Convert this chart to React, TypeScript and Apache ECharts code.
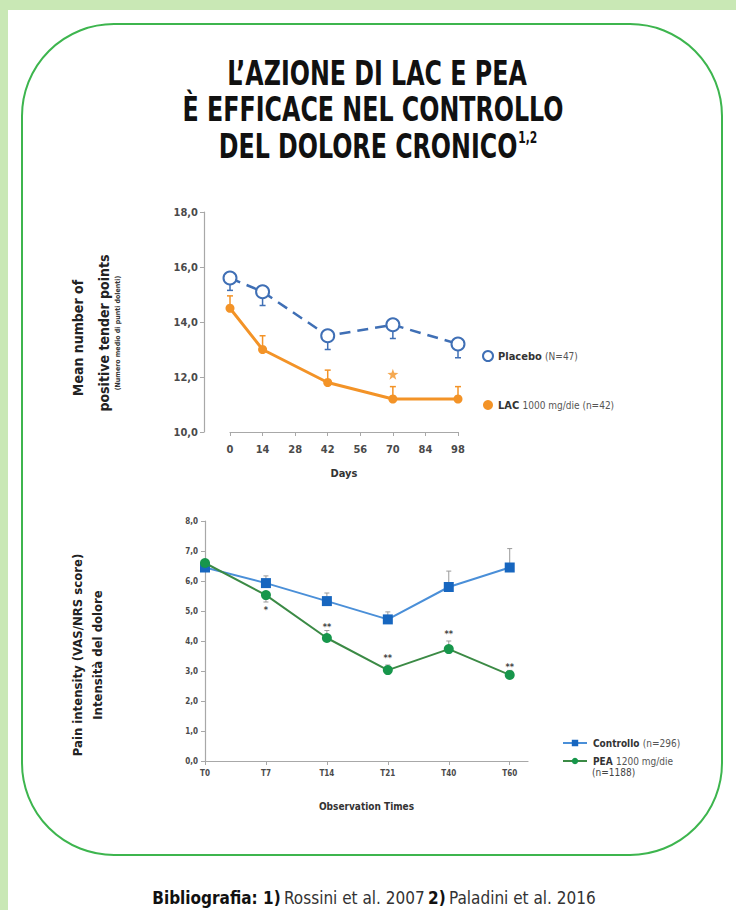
import React, { useEffect, useRef } from "react";
import * as echarts from "echarts";

// ---- Top chart data (LAC study) ----
const DAYS = [0, 14, 42, 70, 98];
const PLACEBO = [15.6, 15.1, 13.5, 13.9, 13.2];
const PLACEBO_ERR_LOW = [15.15, 14.6, 13.0, 13.4, 12.7];
const LAC = [14.5, 13.0, 11.8, 11.2, 11.2];
const LAC_ERR_HIGH = [14.95, 13.5, 12.25, 11.65, 11.65];
const LAC_STAR_DAY = [70];
const LAC_STAR_VALUE = [12.1];

// ---- Bottom chart data (PEA study) ----
const TIMES = ["T0", "T7", "T14", "T21", "T40", "T60"];
const CONTROLLO = [6.45, 5.93, 5.33, 4.72, 5.8, 6.45];
const CONTROLLO_ERR_HIGH = [6.6, 6.17, 5.6, 4.97, 6.33, 7.08];
const PEA = [6.6, 5.53, 4.1, 3.03, 3.73, 2.87];
const PEA_ERR_END = [6.6, 5.3, 4.35, 3.2, 4.0, 3.02];
const PEA_STARS = ["", "*", "**", "**", "**", "**"];
const PEA_STAR_Y = [0, 5.05, 4.48, 3.42, 4.22, 3.15];

const COND = "'DejaVu Sans Condensed', 'Liberation Sans Narrow', Arial, sans-serif";
const BLUE_TOP = "#3f6fb5";
const ORANGE = "#f39327";
const BLUE_LINE = "#4a8fd8";
const BLUE_MARK = "#1766bf";
const GREEN_LINE = "#3b8a45";
const GREEN_MARK = "#17964b";
const AXIS_GRAY = "#a8a8a8";
const LABEL = "#4a4a4a";

function errorBar(color: string, width: number, cap: number) {
  return (params: any, api: any) => {
    const x = api.value(0);
    const p1 = api.coord([x, api.value(1)]);
    const p2 = api.coord([x, api.value(2)]);
    const style = { stroke: color, lineWidth: width };
    return {
      type: "group",
      children: [
        { type: "line", shape: { x1: p1[0], y1: p1[1], x2: p2[0], y2: p2[1] }, style },
        { type: "line", shape: { x1: p2[0] - cap, y1: p2[1], x2: p2[0] + cap, y2: p2[1] }, style },
      ],
    };
  };
}

export default function App() {
  const ref = useRef<HTMLDivElement>(null);
  useEffect(() => {
    if (!ref.current) return;
    const chart = echarts.init(ref.current, undefined, { renderer: "svg" });
    const commaFmt = (v: number) => v.toFixed(1).replace(".", ",");
    const titleFont = `bold 33px ${COND}`;

    const option: any = {
      animation: false,
      backgroundColor: "#ffffff",
      graphic: [
        { type: "rect", shape: { x: 0, y: 0, width: 736, height: 10 }, style: { fill: "#c9e8b5" }, silent: true },
        { type: "rect", shape: { x: 0, y: 0, width: 8, height: 910 }, style: { fill: "#c9e8b5" }, silent: true },
        {
          type: "rect",
          shape: { x: 22, y: 24, width: 700, height: 831, r: 92 },
          style: { fill: "none", stroke: "#3db54e", lineWidth: 2 },
          silent: true,
        },
        {
          type: "text", x: 377, y: 73, scaleX: 0.8,
          style: { text: "L\u2019AZIONE DI LAC E PEA", font: titleFont, fill: "#111", textAlign: "center", textVerticalAlign: "middle" },
        },
        {
          type: "text", x: 373, y: 109, scaleX: 0.8,
          style: { text: "È EFFICACE NEL CONTROLLO", font: titleFont, fill: "#111", textAlign: "center", textVerticalAlign: "middle" },
        },
        {
          type: "text", x: 378, y: 146, scaleX: 0.8,
          style: {
            text: "{m|DEL DOLORE CRONICO}{s|1,2}",
            fill: "#111", textAlign: "center", textVerticalAlign: "middle",
            rich: {
              m: { font: titleFont, fill: "#111", verticalAlign: "bottom" },
              s: { font: `bold 15px ${COND}`, fill: "#111", verticalAlign: "top", padding: [0, 0, 16, 1] },
            },
          },
        },
        // top y-axis titles
        {
          type: "text", x: 78, y: 338, rotation: Math.PI / 2,
          style: { text: "Mean number of", font: `bold 14px ${COND}`, fill: "#222", textAlign: "center", textVerticalAlign: "middle" },
        },
        {
          type: "text", x: 104, y: 333, rotation: Math.PI / 2,
          style: { text: "positive tender points", font: `bold 14px ${COND}`, fill: "#222", textAlign: "center", textVerticalAlign: "middle" },
        },
        {
          type: "text", x: 118, y: 333, rotation: Math.PI / 2,
          style: { text: "(Numero medio di punti dolenti)", font: `bold 7px ${COND}`, fill: "#333", textAlign: "center", textVerticalAlign: "middle" },
        },
        // bottom y-axis titles
        {
          type: "text", x: 77, y: 655, rotation: Math.PI / 2,
          style: { text: "Pain intensity (VAS/NRS score)", font: `bold 13px ${COND}`, fill: "#222", textAlign: "center", textVerticalAlign: "middle" },
        },
        {
          type: "text", x: 97, y: 655, rotation: Math.PI / 2,
          style: { text: "Intensità del dolore", font: `bold 13px ${COND}`, fill: "#222", textAlign: "center", textVerticalAlign: "middle" },
        },
        {
          type: "text", x: 592, y: 772,
          style: { text: "(n=1188)", font: `10px ${COND}`, fill: "#444", textAlign: "left", textVerticalAlign: "middle" },
        },
        // bibliography
        {
          type: "text", x: 374, y: 898,
          style: {
            text: "{b|Bibliografia: 1)} {n|Rossini et al. 2007} {b|2)} {n|Paladini et al. 2016}",
            textAlign: "center", textVerticalAlign: "middle",
            rich: {
              b: { font: `bold 17px ${COND}`, fill: "#111" },
              n: { font: `17px ${COND}`, fill: "#333" },
            },
          },
        },
      ],
      legend: [
        {
          orient: "vertical",
          left: 477,
          top: 344,
          itemWidth: 10,
          itemHeight: 10,
          itemGap: 35,
          selectedMode: false,
          data: [
            { name: "Placebo", icon: "emptyCircle" },
            { name: "LAC", icon: "circle" },
          ],
          formatter: (name: string) =>
            name === "Placebo" ? "{b|Placebo} {n|(N=47)}" : "{b|LAC} {n|1000 mg/die (n=42)}",
          textStyle: {
            lineHeight: 14,
            rich: {
              b: { fontFamily: COND, fontWeight: "bold", fontSize: 11, color: "#333" },
              n: { fontFamily: COND, fontSize: 10, color: "#555" },
            },
          },
        },
        {
          orient: "vertical",
          left: 557,
          top: 731,
          itemWidth: 24,
          itemHeight: 8,
          itemGap: 4,
          selectedMode: false,
          data: ["Controllo", "PEA"],
          formatter: (name: string) =>
            name === "Controllo" ? "{b|Controllo} {n|(n=296)}" : "{b|PEA} {n|1200 mg/die}",
          textStyle: {
            lineHeight: 14,
            padding: [0, 0, 0, 1],
            rich: {
              b: { fontFamily: COND, fontWeight: "bold", fontSize: 10, color: "#333" },
              n: { fontFamily: COND, fontSize: 10, color: "#555" },
            },
          },
        },
      ],
      grid: [
        { left: 230, top: 212, width: 228, height: 220 },
        { left: 205, top: 521, width: 323, height: 240 },
      ],
      xAxis: [
        {
          gridIndex: 0,
          type: "value",
          min: 0,
          max: 98,
          interval: 14,
          splitLine: { show: false },
          axisLine: { onZero: false, lineStyle: { color: AXIS_GRAY, width: 1.2 } },
          axisTick: { show: true, length: 4, lineStyle: { color: AXIS_GRAY } },
          axisLabel: { margin: 12, fontFamily: COND, fontWeight: "bold", fontSize: 11, color: LABEL },
          name: "Days",
          nameLocation: "middle",
          nameGap: 36,
          nameTextStyle: { fontFamily: COND, fontWeight: "bold", fontSize: 11, color: "#333" },
        },
        {
          gridIndex: 1,
          type: "value",
          min: 0,
          max: 5.3,
          splitLine: { show: false },
          axisLine: { onZero: false, lineStyle: { color: AXIS_GRAY, width: 1.2 } },
          axisTick: { show: true, length: 4, customValues: [0, 1, 2, 3, 4, 5], lineStyle: { color: AXIS_GRAY } },
          axisLabel: {
            margin: 8,
            customValues: [0, 1, 2, 3, 4, 5],
            formatter: (v: number) => TIMES[Math.round(v)] ?? "",
            fontFamily: COND,
            fontWeight: "bold",
            fontSize: 8,
            color: LABEL,
          },
          name: "Observation Times",
          nameLocation: "middle",
          nameGap: 40,
          nameTextStyle: { fontFamily: COND, fontWeight: "bold", fontSize: 10, color: "#333" },
        },
      ],
      yAxis: [
        {
          gridIndex: 0,
          type: "value",
          min: 10,
          max: 18,
          interval: 2,
          offset: 26,
          splitLine: { show: false },
          axisLine: { show: true, onZero: false, lineStyle: { color: AXIS_GRAY, width: 1.2 } },
          axisTick: { show: true, length: 4, lineStyle: { color: AXIS_GRAY } },
          axisLabel: { margin: 6, formatter: commaFmt, fontFamily: COND, fontWeight: "bold", fontSize: 11, color: LABEL },
        },
        {
          gridIndex: 1,
          type: "value",
          min: 0,
          max: 8,
          interval: 1,
          splitLine: { show: false },
          axisLine: { show: true, onZero: false, lineStyle: { color: AXIS_GRAY, width: 1.2 } },
          axisTick: { show: true, length: 4, lineStyle: { color: AXIS_GRAY } },
          axisLabel: { margin: 7, formatter: commaFmt, fontFamily: COND, fontWeight: "bold", fontSize: 8, color: LABEL },
        },
      ],
      series: [
        {
          type: "custom",
          name: "placeboErr",
          xAxisIndex: 0,
          yAxisIndex: 0,
          z: 1,
          renderItem: errorBar(BLUE_TOP, 1.5, 3),
          encode: { x: 0, y: [1, 2] },
          data: DAYS.map((d, i) => [d, PLACEBO[i], PLACEBO_ERR_LOW[i]]),
        },
        {
          type: "custom",
          name: "lacErr",
          xAxisIndex: 0,
          yAxisIndex: 0,
          z: 1,
          renderItem: errorBar(ORANGE, 1.5, 3),
          encode: { x: 0, y: [1, 2] },
          data: DAYS.map((d, i) => [d, LAC[i], LAC_ERR_HIGH[i]]),
        },
        {
          type: "line",
          name: "Placebo",
          xAxisIndex: 0,
          yAxisIndex: 0,
          data: DAYS.map((d, i) => [d, PLACEBO[i]]),
          symbol: "emptyCircle",
          symbolSize: 13,
          lineStyle: { color: BLUE_TOP, width: 2.5, type: [11, 7] },
          itemStyle: { color: BLUE_TOP, borderWidth: 2 },
          z: 3,
        },
        {
          type: "line",
          name: "LAC",
          xAxisIndex: 0,
          yAxisIndex: 0,
          data: DAYS.map((d, i) => [d, LAC[i]]),
          symbol: "circle",
          symbolSize: 9,
          lineStyle: { color: ORANGE, width: 3 },
          itemStyle: { color: ORANGE },
          z: 3,
        },
        {
          type: "scatter",
          name: "lacStar",
          xAxisIndex: 0,
          yAxisIndex: 0,
          data: LAC_STAR_DAY.map((d, i) => [d, LAC_STAR_VALUE[i]]),
          symbol: "path://M0,-10 L2.35,-3.24 9.51,-3.09 3.8,1.24 5.88,8.09 0,4 -5.88,8.09 -3.8,1.24 -9.51,-3.09 -2.35,-3.24Z",
          symbolSize: 11,
          itemStyle: { color: ORANGE },
        },
        {
          type: "custom",
          name: "controlloErr",
          xAxisIndex: 1,
          yAxisIndex: 1,
          z: 1,
          renderItem: errorBar("#9a9a9a", 1, 2.5),
          encode: { x: 0, y: [1, 2] },
          data: TIMES.map((_, i) => [i, CONTROLLO[i], CONTROLLO_ERR_HIGH[i]]),
        },
        {
          type: "custom",
          name: "peaErr",
          xAxisIndex: 1,
          yAxisIndex: 1,
          z: 1,
          renderItem: errorBar("#9a9a9a", 1, 2.5),
          encode: { x: 0, y: [1, 2] },
          data: TIMES.map((_, i) => [i, PEA[i], PEA_ERR_END[i]]),
        },
        {
          type: "line",
          name: "Controllo",
          xAxisIndex: 1,
          yAxisIndex: 1,
          data: TIMES.map((_, i) => [i, CONTROLLO[i]]),
          symbol: "rect",
          symbolSize: 10,
          lineStyle: { color: BLUE_LINE, width: 2 },
          itemStyle: { color: BLUE_MARK },
          z: 3,
        },
        {
          type: "line",
          name: "PEA",
          xAxisIndex: 1,
          yAxisIndex: 1,
          data: TIMES.map((_, i) => [i, PEA[i]]),
          symbol: "circle",
          symbolSize: 10,
          lineStyle: { color: GREEN_LINE, width: 2 },
          itemStyle: { color: GREEN_MARK },
          z: 4,
        },
        {
          type: "custom",
          name: "peaStars",
          xAxisIndex: 1,
          yAxisIndex: 1,
          z: 5,
          encode: { x: 0, y: 1 },
          data: TIMES.map((_, i) => [i, PEA_STAR_Y[i], i]),
          renderItem: (params: any, api: any) => {
            const idx = api.value(2);
            const txt = PEA_STARS[idx];
            if (!txt) return null;
            const p = api.coord([api.value(0), api.value(1)]);
            return {
              type: "text",
              x: p[0],
              y: p[1],
              style: {
                text: txt,
                font: `bold 9px ${COND}`,
                fill: "#444",
                textAlign: "center",
                textVerticalAlign: "middle",
              },
            };
          },
        },
      ],
    };
    chart.setOption(option);
    return () => chart.dispose();
  }, []);
  return (
    <div
      ref={ref}
      style={{ position: "fixed", left: 0, top: 0, width: 736, height: 910 }}
    />
  );
}
